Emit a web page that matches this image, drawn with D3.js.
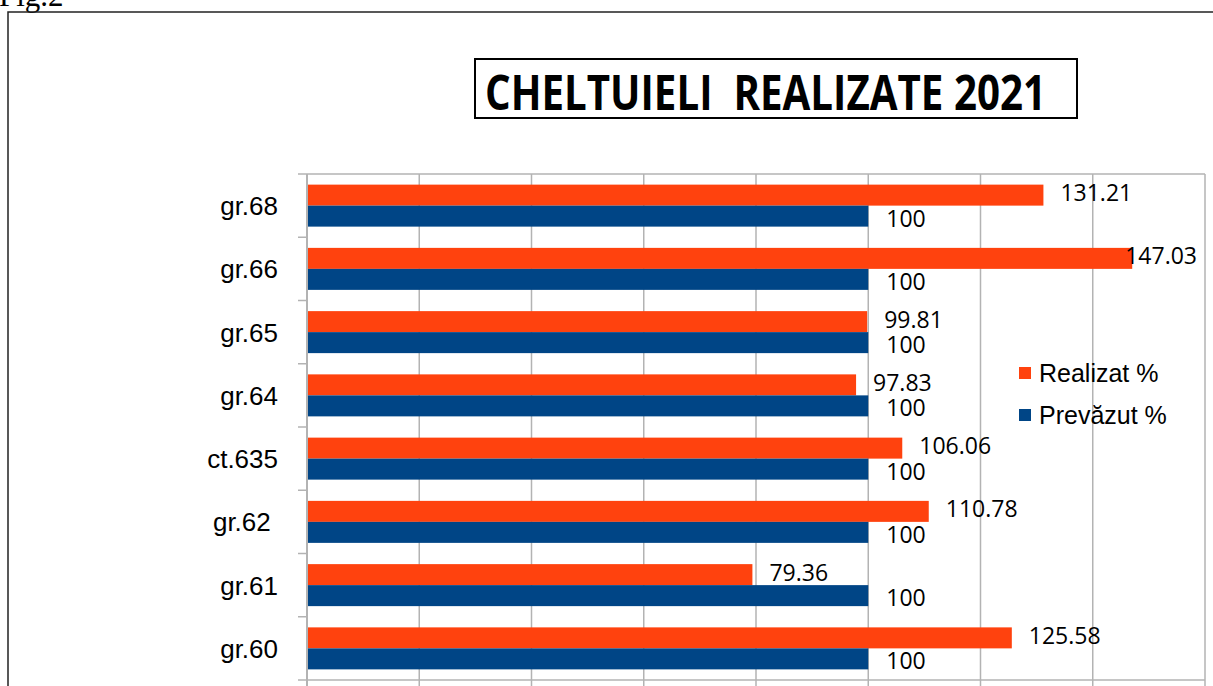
<!DOCTYPE html>
<html>
<head>
<meta charset="utf-8">
<script src="https://cdn.jsdelivr.net/npm/d3@7"></script>
<style>
  html, body { margin: 0; padding: 0; background: #fff; }
  svg { display: block; }
</style>
</head>
<body>
<svg id="chart" width="1213" height="686"></svg>
<script>
// ---- data ----
const categories = ["gr.68", "gr.66", "gr.65", "gr.64", "ct.635", "gr.62 ", "gr.61", "gr.60"];
const realizat = [131.21, 147.03, 99.81, 97.83, 106.06, 110.78, 79.36, 125.58];
const prevazut = [100, 100, 100, 100, 100, 100, 100, 100];
const seriesNames = ["Realizat %", "Prevăzut %"];
const xTicks = [0, 20, 40, 60, 80, 100, 120, 140, 160];
const titleText = "CHELTUIELI  REALIZATE 2021";
const figText = "Fig.2";

const colors = { realizat: "#ff420e", prevazut: "#004586" };
const gridColor = "#b3b3b3";

const svg = d3.select("#chart");

// figure caption (mostly cut off at the top)
svg.append("text")
  .attr("x", -1).attr("y", 6)
  .attr("font-family", "Liberation Serif, Times New Roman, serif")
  .attr("font-size", 31)
  .attr("fill", "#000")
  .text(figText);

// outer frame
svg.append("path")
  .attr("d", "M8,700 L8,12 L1220,12")
  .attr("fill", "none").attr("stroke", "#222").attr("stroke-width", 1.5);

// title box
svg.append("rect")
  .attr("x", 475).attr("y", 59).attr("width", 602).attr("height", 59)
  .attr("fill", "#fff").attr("stroke", "#000").attr("stroke-width", 2);
svg.append("text")
  .attr("x", 485).attr("y", 110)
  .attr("font-family", "Open Sans, Liberation Sans, sans-serif")
  .attr("font-weight", "bold")
  .attr("font-size", 48)
  .attr("textLength", 561)
  .attr("lengthAdjust", "spacingAndGlyphs")
  .style("white-space", "pre")
  .attr("fill", "#000")
  .text(titleText);

// plot area
const pLeft = 307, pRight = 1205, pTop = 174, pBottom = 680;
const x = d3.scaleLinear().domain([0, 160]).range([pLeft, pRight]);
const y = d3.scaleBand().domain(categories).range([pTop, pBottom])
  .paddingInner(0.336).paddingOuter(0.168);
const sub = d3.scaleBand().domain(["r", "p"]).range([0, y.bandwidth()]);
const step = y.step();

// gridlines
svg.append("g").selectAll("line").data(xTicks.slice(1)).join("line")
  .attr("x1", d => x(d)).attr("x2", d => x(d))
  .attr("y1", pTop).attr("y2", pBottom + 7)
  .attr("stroke", gridColor).attr("stroke-width", 1.5);

// top border
svg.append("line").attr("x1", pLeft).attr("x2", pRight).attr("y1", pTop).attr("y2", pTop)
  .attr("stroke", gridColor).attr("stroke-width", 1.5);

const groups = svg.append("g").selectAll("g").data(categories).join("g")
  .attr("transform", d => `translate(0,${y(d)})`);

const labelFont = "Open Sans, DejaVu Sans, sans-serif";
const labelSize = 23;

groups.each(function(c, i) {
  const g = d3.select(this);
  const v = realizat[i];
  g.append("rect")
    .attr("x", x(0)).attr("y", sub("r"))
    .attr("width", x(v) - x(0)).attr("height", sub.bandwidth())
    .attr("fill", colors.realizat);
});
groups.each(function(c, i) {
  const g = d3.select(this);
  const v = realizat[i];
  const t = g.append("text")
    .attr("y", sub("r") + sub.bandwidth() / 2 + 6)
    .attr("font-family", labelFont).attr("font-size", labelSize).attr("fill", "#000")
    .text(v.toFixed(2));
  const w = t.node().getComputedTextLength();
  let tx = x(v) + 17;
  if (tx + w > pRight - 6) tx = pRight - 8 - w;
  t.attr("x", tx);
});
groups.each(function(c, i) {
  const g = d3.select(this);
  const v = prevazut[i];
  g.append("rect")
    .attr("x", x(0)).attr("y", sub("p"))
    .attr("width", x(v) - x(0)).attr("height", sub.bandwidth())
    .attr("fill", colors.prevazut);
  g.append("text")
    .attr("x", x(v) + 18)
    .attr("y", sub("p") + sub.bandwidth() / 2 + 10.5)
    .attr("font-family", labelFont).attr("font-size", labelSize).attr("fill", "#000")
    .text(String(v));
});

// bottom border
svg.append("line").attr("x1", pLeft).attr("x2", pRight).attr("y1", pBottom).attr("y2", pBottom)
  .attr("stroke", gridColor).attr("stroke-width", 1.5);

// left axis line and ticks at band boundaries
svg.append("line").attr("x1", pLeft).attr("x2", pLeft).attr("y1", pTop).attr("y2", pBottom + 7)
  .attr("stroke", gridColor).attr("stroke-width", 2);
const bounds = d3.range(categories.length + 1).map(k => pTop + k * step);
svg.append("g").selectAll("line").data(bounds).join("line")
  .attr("x1", pLeft - 9).attr("x2", pLeft).attr("y1", d => d).attr("y2", d => d)
  .attr("stroke", gridColor).attr("stroke-width", 1.5);

// category labels
svg.append("g").selectAll("text").data(categories).join("text")
  .attr("x", 278)
  .attr("y", d => y(d) + y.bandwidth() / 2 + 9.5)
  .attr("text-anchor", "end")
  .style("white-space", "pre")
  .attr("font-family", "Liberation Sans, Arial, sans-serif")
  .attr("font-size", 26)
  .attr("fill", "#000")
  .text(d => d);

// legend
const legend = svg.append("g");
const legendItems = [
  { name: seriesNames[0], color: colors.realizat, y: 373 },
  { name: seriesNames[1], color: colors.prevazut, y: 415 }
];
legendItems.forEach(it => {
  legend.append("rect").attr("x", 1019).attr("y", it.y - 6).attr("width", 12).attr("height", 12)
    .attr("fill", it.color);
  legend.append("text").attr("x", 1039).attr("y", it.y + 8.5)
    .attr("font-family", "Liberation Sans, Arial, sans-serif")
    .attr("font-size", 25)
    .attr("fill", "#000")
    .text(it.name);
});
</script>
</body>
</html>
